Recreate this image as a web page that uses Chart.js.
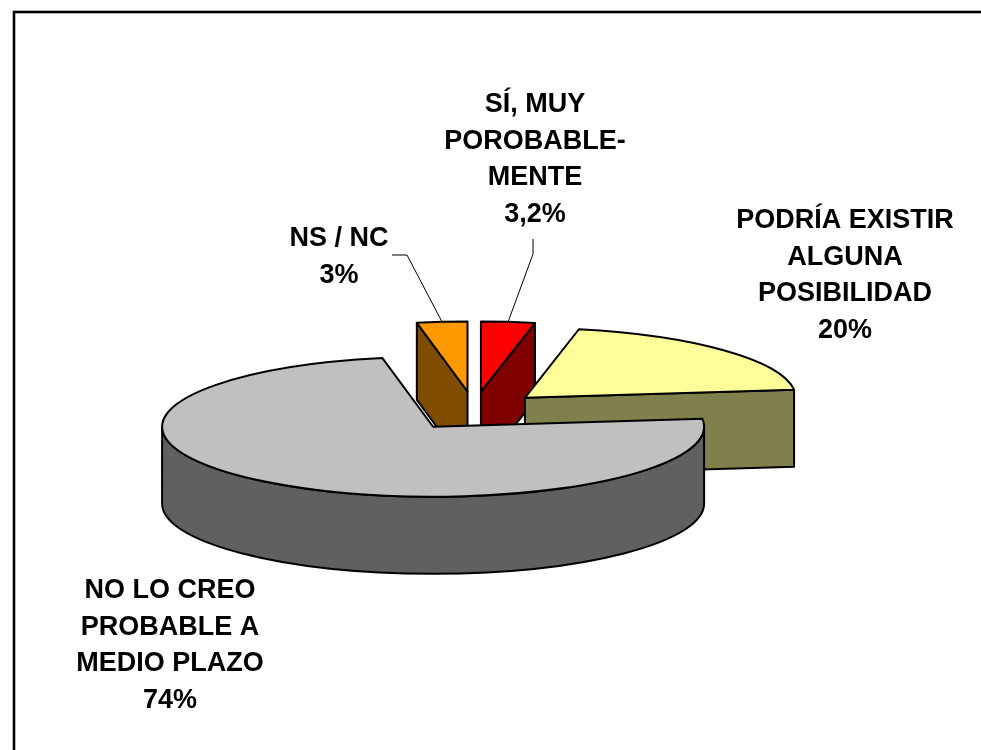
<!DOCTYPE html>
<html>
<head>
<meta charset="utf-8">
<script src="https://cdn.jsdelivr.net/npm/chart.js@4.4.1/dist/chart.umd.min.js"></script>
<style>
  html, body { margin: 0; padding: 0; background: #fff; }
  #grafico { display: block; }
</style>
</head>
<body>
<canvas id="grafico" width="981" height="750"></canvas>
<script>
// datos de la encuesta
const categorias = [
    ['SÍ, MUY', 'POROBABLE-', 'MENTE'],
    ['PODRÍA EXISTIR', 'ALGUNA', 'POSIBILIDAD'],
    ['NO LO CREO', 'PROBABLE A', 'MEDIO PLAZO'],
    ['NS / NC']
];
const valores = [3.2, 20, 74, 3];
const coloresCara = ['#FF0000', '#FFFF99', '#C0C0C0', '#FF9900'];
const coloresLado = ['#800000', '#80804C', '#606060', '#804C00'];

// donde va cada etiqueta (centro x, y de la primera linea) y el quiebre de la guia
const posEtiquetas = [
    { x: 535, y: 105, guia: [[533, 239], [533, 254]] },
    { x: 845, y: 221, guia: null },
    { x: 170, y: 591, guia: null },
    { x: 339, y: 239, guia: [[392, 255], [407, 255]] }
];

const INCLINACION = 0.258;   // ry / rx
const GROSOR = 0.284;        // profundidad / rx
const SEPARACION = 0.255;    // desplazamiento de las porciones / rx
const SEPARACION_Y = 0.283;

const formato = v => v.toLocaleString('es-ES') + '%';

function normalizar(a) {
    const dos = Math.PI * 2;
    return ((a % dos) + dos) % dos;
}

const pastel3d = {
    id: 'pastel3d',
    beforeDatasetsDraw(chart) {
        const ctx = chart.ctx;
        const meta = chart.getDatasetMeta(0);
        const porciones = meta.data.map((arc, i) => {
            const p = arc.getProps(['x', 'y', 'startAngle', 'endAngle', 'outerRadius'], true);
            const medio = (p.startAngle + p.endAngle) / 2;
            const rx = p.outerRadius;
            const ex = rx * SEPARACION;
            return {
                i,
                cx: p.x + ex * Math.cos(medio),
                cy: p.y + ex * SEPARACION_Y * Math.sin(medio),
                rx,
                ry: rx * INCLINACION,
                prof: rx * GROSOR,
                a0: p.startAngle,
                a1: p.endAngle,
                medio
            };
        });
        chart.$porciones = porciones;

        ctx.save();
        ctx.lineWidth = 2;
        ctx.lineJoin = 'round';
        ctx.strokeStyle = '#000';

        // primero las porciones del fondo
        const orden = porciones.slice().sort((a, b) => a.cy - b.cy);
        orden.forEach(s => {
            const { cx, cy, rx, ry, prof } = s;
            const p = a => [cx + rx * Math.cos(a), cy + ry * Math.sin(a)];
            ctx.fillStyle = coloresLado[s.i];

            // caras radiales
            const caraRadial = a => {
                const q = p(a);
                ctx.beginPath();
                ctx.moveTo(cx, cy);
                ctx.lineTo(q[0], q[1]);
                ctx.lineTo(q[0], q[1] + prof);
                ctx.lineTo(cx, cy + prof);
                ctx.closePath();
                ctx.fill();
                ctx.stroke();
            };
            if (Math.cos(s.a0) < -1e-3) caraRadial(s.a0);
            if (Math.cos(s.a1) > 1e-3) caraRadial(s.a1);

            // cara exterior, solo la mitad delantera
            let a0 = normalizar(s.a0);
            let a1 = a0 + (s.a1 - s.a0);
            [[0, Math.PI], [Math.PI * 2, Math.PI * 3]].forEach(([d0, d1]) => {
                const i0 = Math.max(a0, d0);
                const i1 = Math.min(a1, d1);
                if (i1 - i0 <= 1e-4) return;
                ctx.beginPath();
                ctx.ellipse(cx, cy, rx, ry, 0, i0, i1, false);
                ctx.ellipse(cx, cy + prof, rx, ry, 0, i1, i0, true);
                ctx.closePath();
                ctx.fill();
                ctx.stroke();
            });

            // tapa
            ctx.fillStyle = coloresCara[s.i];
            ctx.beginPath();
            ctx.moveTo(cx, cy);
            ctx.ellipse(cx, cy, rx, ry, 0, s.a0, s.a1, false);
            ctx.closePath();
            ctx.fill();
            ctx.stroke();
        });
        ctx.restore();
        return false;
    },
    afterDraw(chart) {
        const ctx = chart.ctx;
        const porciones = chart.$porciones;
        ctx.save();

        // marco
        ctx.strokeStyle = '#000';
        ctx.lineWidth = 2.6;
        ctx.strokeRect(14, 12, 1000, 1000);

        // guias
        ctx.lineWidth = 1;
        porciones.forEach(s => {
            const pos = posEtiquetas[s.i];
            if (!pos.guia) return;
            const fin = [s.cx + s.rx * Math.cos(s.medio), s.cy + s.ry * Math.sin(s.medio)];
            ctx.beginPath();
            ctx.moveTo(pos.guia[0][0], pos.guia[0][1]);
            ctx.lineTo(pos.guia[1][0], pos.guia[1][1]);
            ctx.lineTo(fin[0], fin[1]);
            ctx.stroke();
        });

        // etiquetas
        ctx.fillStyle = '#000';
        ctx.font = 'bold 27px "Liberation Sans", Arial, sans-serif';
        ctx.textAlign = 'center';
        ctx.textBaseline = 'middle';
        categorias.forEach((lineas, i) => {
            const pos = posEtiquetas[i];
            const texto = lineas.concat([formato(valores[i])]);
            texto.forEach((l, j) => ctx.fillText(l, pos.x, pos.y + j * 36.5));
        });
        ctx.restore();
    }
};

const ctx = document.getElementById('grafico').getContext('2d');
new Chart(ctx, {
    type: 'pie',
    data: {
        labels: categorias,
        datasets: [{
            data: valores,
            backgroundColor: coloresCara,
            borderWidth: 0,
            hoverOffset: 0
        }]
    },
    options: {
        responsive: false,
        animation: false,
        devicePixelRatio: 1,
        layout: {
            padding: { left: 203, right: 236, top: 140, bottom: 68 }
        },
        plugins: {
            legend: { display: false },
            tooltip: { enabled: false }
        }
    },
    plugins: [pastel3d]
});
</script>
</body>
</html>
